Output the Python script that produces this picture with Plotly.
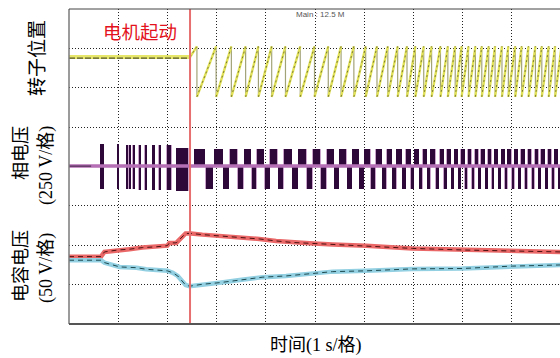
import plotly.graph_objects as go

# ---------------- data (scope divisions; x in seconds, 1 s/div) ----------------
start_time = 2.46

# rotor position sawtooth: times of each tooth peak (drop instants)
teeth_times = [2.60, 2.99, 3.30, 3.59, 3.85, 4.12, 4.40, 4.70, 4.99, 5.27,
               5.53, 5.79, 6.03, 6.26, 6.48, 6.68, 6.87, 7.04, 7.21, 7.37,
               7.55, 7.70, 7.85, 7.98, 8.12, 8.26, 8.39, 8.53, 8.66, 8.80,
               8.93, 9.07, 9.20, 9.34, 9.48, 9.61, 9.75, 9.88, 10.01]
rotor_idle = 6.78
rotor_top = 7.05
rotor_bottom = 5.77

# phase voltage: baseline and pre-start bursts
phase_center = 4.01
pre_burst_start = [0.634, 0.985, 1.17, 1.225, 1.305, 1.425, 1.55, 1.70, 1.835, 1.99, 2.18]
pre_burst_end = [0.707, 1.005, 1.19, 1.245, 1.325, 1.445, 1.57, 1.74, 1.855, 2.08, 2.42]
pre_burst_top = [4.57, 4.57, 4.55, 4.55, 4.55, 4.55, 4.55, 4.55, 4.55, 4.55, 4.48]
pre_burst_bot = [3.43, 3.43, 3.43, 3.43, 3.43, 3.40, 3.40, 3.40, 3.40, 3.40, 3.37]
run_top = 4.44
run_bot = 3.42

# capacitor voltages
cap_red_t = [0, 0.65, 0.72, 0.99, 1.23, 1.49, 1.77, 2.00, 2.04, 2.18, 2.37, 2.48,
             2.71, 3.06, 3.40, 3.87, 4.21, 4.54, 4.89, 5.36, 6.04, 6.98, 8.00, 9.01, 10.0]
cap_red_v = [1.71, 1.71, 1.83, 1.88, 1.90, 1.94, 1.96, 1.99, 2.06, 2.06, 2.30, 2.30,
             2.27, 2.24, 2.20, 2.16, 2.11, 2.07, 2.05, 2.02, 1.99, 1.92, 1.88, 1.86, 1.83]
cap_blue_t = [0, 0.65, 0.72, 0.82, 1.03, 1.37, 1.57, 2.00, 2.11, 2.21, 2.37, 2.45,
              2.72, 3.06, 3.47, 3.94, 4.41, 4.89, 5.36, 6.04, 6.98, 8.00, 9.01, 10.0]
cap_blue_v = [1.62, 1.62, 1.56, 1.52, 1.45, 1.43, 1.39, 1.35, 1.30, 1.22, 0.99, 0.96,
              1.01, 1.05, 1.12, 1.19, 1.22, 1.27, 1.33, 1.35, 1.40, 1.41, 1.47, 1.50]

# ---------------- build traces ----------------
fig = go.Figure()

# phase voltage blocks (bars with base)
bx, bw, bb, bh = [], [], [], []
for s, e, tp, bt in zip(pre_burst_start, pre_burst_end, pre_burst_top, pre_burst_bot):
    bx.append((s + e) / 2); bw.append(e - s); bb.append(bt); bh.append(tp - bt)
for i in range(len(teeth_times) - 1):
    t0, t1 = teeth_times[i], teeth_times[i + 1]
    p = t1 - t0
    us, ue = t0 - 0.13 * p, t0 + 0.42 * p
    ls, le = t0 + 0.46 * p, t0 + 0.84 * p
    bx.append((us + ue) / 2); bw.append(ue - us); bb.append(phase_center); bh.append(run_top - phase_center)
    bx.append((ls + le) / 2); bw.append(le - ls); bb.append(run_bot); bh.append(phase_center - run_bot)

fig.add_trace(go.Bar(x=bx, y=bh, base=bb, width=[w + 0.018 for w in bw],
                     marker=dict(color="#c9a3c9", line_width=0), hoverinfo="skip"))
fig.add_trace(go.Bar(x=bx, y=bh, base=bb, width=bw,
                     marker=dict(color="#2e0838", line_width=0), hoverinfo="skip"))
fig.add_trace(go.Scatter(x=[0, 10.2], y=[phase_center, phase_center], mode="lines",
                         line=dict(color="#b56fb5", width=3.5)))
fig.add_trace(go.Scatter(x=[0, 0.45], y=[phase_center, phase_center], mode="lines",
                         line=dict(color="#3a2040", width=1)))

# rotor position
saw_x = [0, start_time, teeth_times[0]]
saw_y = [rotor_idle, rotor_idle, rotor_top]
rise_x = [start_time, teeth_times[0], None]
rise_y = [rotor_idle, rotor_top, None]
for i in range(len(teeth_times) - 1):
    saw_x += [teeth_times[i], teeth_times[i + 1]]
    saw_y += [rotor_bottom, rotor_top]
    rise_x += [teeth_times[i], teeth_times[i + 1], None]
    rise_y += [rotor_bottom, rotor_top, None]
fig.add_trace(go.Scatter(x=saw_x, y=saw_y, mode="lines",
                         line=dict(color="#a3a378", width=1.2)))
fig.add_trace(go.Scatter(x=[0, start_time], y=[rotor_idle, rotor_idle], mode="lines",
                         line=dict(color="#e6e66a", width=4)))
fig.add_trace(go.Scatter(x=[0, start_time], y=[rotor_idle - 0.03, rotor_idle - 0.03], mode="lines",
                         line=dict(color="#55552a", width=1.3, dash="6px,2px")))
fig.add_trace(go.Scatter(x=rise_x, y=rise_y, mode="lines",
                         line=dict(color="#e3e35a", width=2.4)))
fig.add_trace(go.Scatter(x=rise_x, y=rise_y, mode="lines",
                         line=dict(color="#6e6e30", width=0.9, dash="2px,3px")))

# capacitor voltages
fig.add_trace(go.Scatter(x=cap_red_t, y=cap_red_v, mode="lines",
                         line=dict(color="#ea6868", width=4.5)))
fig.add_trace(go.Scatter(x=cap_red_t, y=cap_red_v, mode="lines",
                         line=dict(color="#4a1010", width=1, dash="5px,4px")))
fig.add_trace(go.Scatter(x=cap_blue_t, y=cap_blue_v, mode="lines",
                         line=dict(color="#93d0e2", width=4.5)))
fig.add_trace(go.Scatter(x=cap_blue_t, y=cap_blue_v, mode="lines",
                         line=dict(color="#1e4a50", width=1, dash="5px,4px")))

# ---------------- layout ----------------
W, H = 560, 358
L, T, B = 69, 9, 34
pw, ph = W - L, H - T - B
px_per_div = 49.2

def px_x(page_px):
    return (page_px - L) / pw

def px_y(page_py):
    return (H - B - page_py) / ph

serif = "Liberation Serif, Noto Sans CJK SC, serif"
axis_common = dict(showgrid=True, gridcolor="#222", griddash="1px,2px", gridwidth=1,
                   dtick=1, tick0=0, showticklabels=False, ticks="", zeroline=False,
                   showline=False, fixedrange=True)

def ann(text, x, y, size, color="black", family=serif, angle=0):
    return dict(text=text, xref="paper", yref="paper", x=px_x(x), y=px_y(y),
                xanchor="center", yanchor="middle", textangle=angle, showarrow=False,
                font=dict(family=family, size=size, color=color))

fig.update_layout(
    width=W, height=H,
    margin=dict(l=L, r=0, t=T, b=B, pad=0),
    paper_bgcolor="white", plot_bgcolor="white",
    showlegend=False, barmode="overlay", bargap=0,
    xaxis=dict(range=[0, pw / px_per_div], **axis_common),
    yaxis=dict(range=[0, 8], **axis_common),
    shapes=[
        dict(type="line", xref="x", yref="paper", x0=start_time, x1=start_time, y0=0, y1=1,
             line=dict(color="#e76f6f", width=2)),
        dict(type="line", xref="paper", yref="paper", x0=0, x1=0, y0=0, y1=1,
             line=dict(color="#7a7a7a", width=1.5)),
        dict(type="line", xref="paper", yref="paper", x0=0, x1=1, y0=1, y1=1,
             line=dict(color="#444", width=1)),
        dict(type="line", xref="paper", yref="paper", x0=0, x1=1, y0=0, y1=0,
             line=dict(color="#555", width=2)),
    ],
    annotations=[
        ann("电机起动", 140, 31, 18.5, color="#e3121c", family="Noto Sans CJK SC"),
        ann("Main : 12.5 M", 320, 14, 8, color="#555", family="Arial, Liberation Sans"),
        ann("转子位置", 37, 58, 19, angle=-90),
        ann("相电压", 21, 153, 18, angle=-90),
        ann("(250 V/格)", 46, 166, 18, angle=-90),
        ann("电容电压", 21, 266, 18, angle=-90),
        ann("(50 V/格)", 46, 268, 18, angle=-90),
        ann("时间(1 s/格)", 315.5, 345, 18),
    ],
)

fig.write_html(
    "out.html",
    config={"displayModeBar": False},
    post_script=("document.documentElement.style.overflow='hidden';"
                 "document.body.style.margin='0';document.body.style.overflow='hidden';"),
)
